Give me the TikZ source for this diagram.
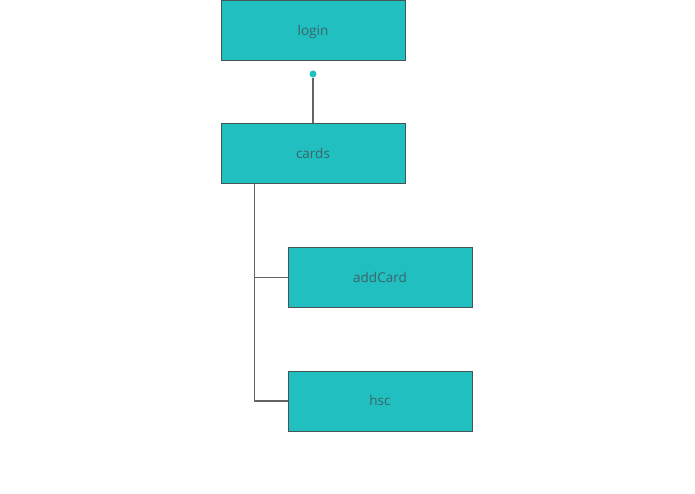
\documentclass[tikz,border=0pt]{standalone}
\usepackage{fontspec}
\setmainfont{Open Sans}
\usetikzlibrary{calc}
\definecolor{boxfill}{RGB}{33,191,191}
\definecolor{boxline}{RGB}{70,85,88}
\definecolor{txt}{RGB}{60,100,105}
\definecolor{conn}{RGB}{100,100,100}
\begin{document}
\begin{tikzpicture}[x=1pt,y=-1pt,
  box/.style={draw=boxline,fill=boxfill,line width=1pt,minimum width=184pt,minimum height=60pt,inner sep=0pt,font=\fontsize{13.5}{16}\selectfont,text=txt,text depth=0.5pt},
  link/.style={draw=conn,line width=1.1pt}]
\useasboundingbox (0,0) rectangle (695,494);
\node[box] (login) at (313,31) {login};
\node[box] (cards) at (313,154) {cards};
\node[box] (addCard) at (380,277.5) {addCard};
\node[box] (hsc) at (380,401) {hsc};
\node[circle,fill=boxfill,inner sep=0pt,minimum size=7pt] (dot) at (313,74) {};
\draw[link] (dot.south) -- (cards.north);
\coordinate (trunk) at ($(cards.south west)+(34,0)$);
\draw[link] (trunk) |- (addCard.west);
\draw[link] (trunk) |- (hsc.west);
\end{tikzpicture}
\end{document}
